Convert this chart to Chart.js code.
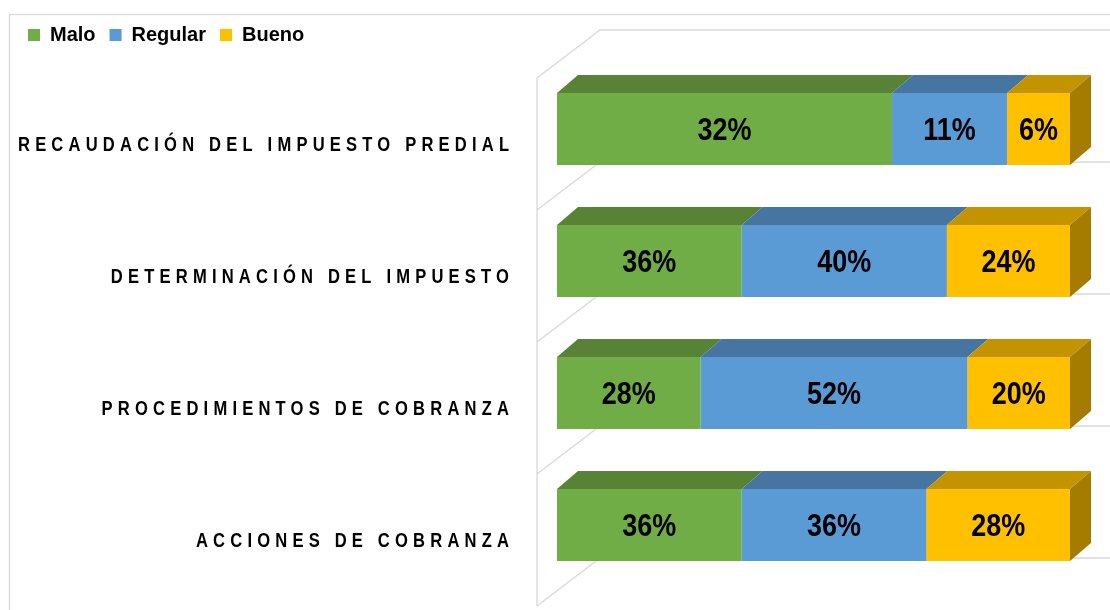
<!DOCTYPE html>
<html>
<head>
<meta charset="utf-8">
<script src="https://cdn.jsdelivr.net/npm/chart.js@4.4.1/dist/chart.umd.min.js"></script>
<style>
  body { margin: 0; background: #fff; }
  #wrap { width: 1110px; height: 610px; position: relative; }
</style>
</head>
<body>
<div id="wrap"><canvas id="grafico"></canvas></div>
<script>
// datos
const categorias = [
  "RECAUDACIÓN DEL IMPUESTO PREDIAL",
  "DETERMINACIÓN DEL IMPUESTO",
  "PROCEDIMIENTOS DE COBRANZA",
  "ACCIONES DE COBRANZA"
];
const malo = [32, 36, 28, 36];
const regular = [11, 40, 52, 36];
const bueno = [6, 24, 20, 28];

const series = ["Malo", "Regular", "Bueno"];
const frente = ["#70ad47", "#5b9bd5", "#ffc000"];
const arriba = ["#588235", "#4575a0", "#c49300"];
const lado = ["#4e7530", "#3f6a92", "#a67c00"];

const FUENTE = "'Liberation Sans', Arial, sans-serif";

// barras al 100% apiladas: cada fila se reparte segun su total
const totales = categorias.map((c, i) => malo[i] + regular[i] + bueno[i]);
const parte = (arr) => arr.map((v, i) => (v / totales[i]) * 100);

const PROF = { dx: 21, dy: -18 };   // profundidad de la barra
const FRENTE = { dx: -20, dy: 15 }; // plano delantero de la pared
const FONDO = { dx: 43, dy: -33 };  // plano del fondo
const GRIS = "#d9d9d9";

// texto estrecho (tipo Arial Narrow) comprimiendo en horizontal
function textoEstrecho(ctx, t, x, y, sx) {
  ctx.save();
  ctx.translate(x, y);
  ctx.scale(sx, 1);
  ctx.fillText(t, 0, 0);
  ctx.restore();
}

const paredes = {
  id: "paredes",
  beforeDatasetsDraw(chart) {
    const ctx = chart.ctx;
    const yS = chart.scales.y;
    const area = chart.chartArea;
    const W = chart.width;
    ctx.save();
    ctx.strokeStyle = GRIS;
    ctx.lineWidth = 1.3;
    // borde exterior
    ctx.strokeRect(9.5, 14.5, W + 20, chart.height + 20);

    const xf = area.left + FRENTE.dx;
    const xb = area.left + FONDO.dx;
    const limites = [];
    for (let i = 0; i <= categorias.length; i++) {
      limites.push(yS.getPixelForValue(i - 0.5));
    }
    // pared izquierda vertical
    ctx.beginPath();
    ctx.moveTo(xf, limites[0] + FRENTE.dy);
    ctx.lineTo(xf, limites[limites.length - 1] + FRENTE.dy);
    ctx.stroke();
    // lineas de division por categoria
    limites.forEach((yy) => {
      ctx.beginPath();
      ctx.moveTo(xf, yy + FRENTE.dy);
      ctx.lineTo(xb, yy + FONDO.dy);
      ctx.lineTo(W, yy + FONDO.dy);
      ctx.stroke();
    });
    ctx.restore();
  }
};

const caras3d = {
  id: "caras3d",
  afterDatasetsDraw(chart) {
    const ctx = chart.ctx;
    ctx.save();
    chart.data.datasets.forEach((ds, d) => {
      const meta = chart.getDatasetMeta(d);
      meta.data.forEach((bar) => {
        const x0 = bar.base, x1 = bar.x;
        const top = bar.y - bar.height / 2, bot = bar.y + bar.height / 2;
        ctx.fillStyle = arriba[d];
        ctx.beginPath();
        ctx.moveTo(x0, top);
        ctx.lineTo(x1, top);
        ctx.lineTo(x1 + PROF.dx, top + PROF.dy);
        ctx.lineTo(x0 + PROF.dx, top + PROF.dy);
        ctx.closePath();
        ctx.fill();
        if (d === chart.data.datasets.length - 1) {
          ctx.fillStyle = lado[d];
          ctx.beginPath();
          ctx.moveTo(x1, top);
          ctx.lineTo(x1 + PROF.dx, top + PROF.dy);
          ctx.lineTo(x1 + PROF.dx, bot + PROF.dy);
          ctx.lineTo(x1, bot);
          ctx.closePath();
          ctx.fill();
        }
      });
    });

    // etiquetas de valores
    ctx.fillStyle = "#000";
    ctx.font = "bold 31px " + FUENTE;
    ctx.textAlign = "center";
    ctx.textBaseline = "middle";
    const valores = [malo, regular, bueno];
    chart.data.datasets.forEach((ds, d) => {
      chart.getDatasetMeta(d).data.forEach((bar, i) => {
        textoEstrecho(ctx, valores[d][i] + "%", (bar.base + bar.x) / 2, bar.y + 2, 0.87);
      });
    });

    // etiquetas de categorias con espaciado
    const yS = chart.scales.y;
    const sx = 0.85;
    const esp = 6.1;
    ctx.font = "bold 19.5px " + FUENTE;
    ctx.textAlign = "right";
    ctx.letterSpacing = esp + "px";
    categorias.forEach((c, i) => {
      textoEstrecho(ctx, c, chart.chartArea.left - 48 + esp * sx, yS.getPixelForValue(i) + 17, sx);
    });
    ctx.restore();
  }
};

new Chart(document.getElementById("grafico"), {
  type: "bar",
  data: {
    labels: categorias,
    datasets: [
      { label: series[0], data: parte(malo), backgroundColor: frente[0] },
      { label: series[1], data: parte(regular), backgroundColor: frente[1] },
      { label: series[2], data: parte(bueno), backgroundColor: frente[2] }
    ]
  },
  options: {
    indexAxis: "y",
    responsive: true,
    maintainAspectRatio: false,
    animation: false,
    datasets: { bar: { barPercentage: 0.545, categoryPercentage: 1, borderWidth: 0 } },
    layout: { padding: { left: 14, right: 40, top: 11, bottom: 19 } },
    scales: {
      x: {
        position: "top",
        stacked: true,
        min: 0,
        max: 100,
        ticks: { display: false },
        grid: { display: false },
        border: { display: false },
        afterFit: (s) => { s.height = 8; }
      },
      y: {
        stacked: true,
        ticks: { display: false },
        grid: { display: false },
        border: { display: false },
        afterFit: (s) => { s.width = 543; }
      }
    },
    plugins: {
      tooltip: { enabled: false },
      legend: {
        position: "top",
        align: "start",
        labels: {
          boxWidth: 12,
          boxHeight: 12,
          padding: 14,
          color: "#000",
          font: { family: FUENTE, size: 20, weight: "bold" }
        }
      }
    }
  },
  plugins: [paredes, caras3d]
});
</script>
</body>
</html>
